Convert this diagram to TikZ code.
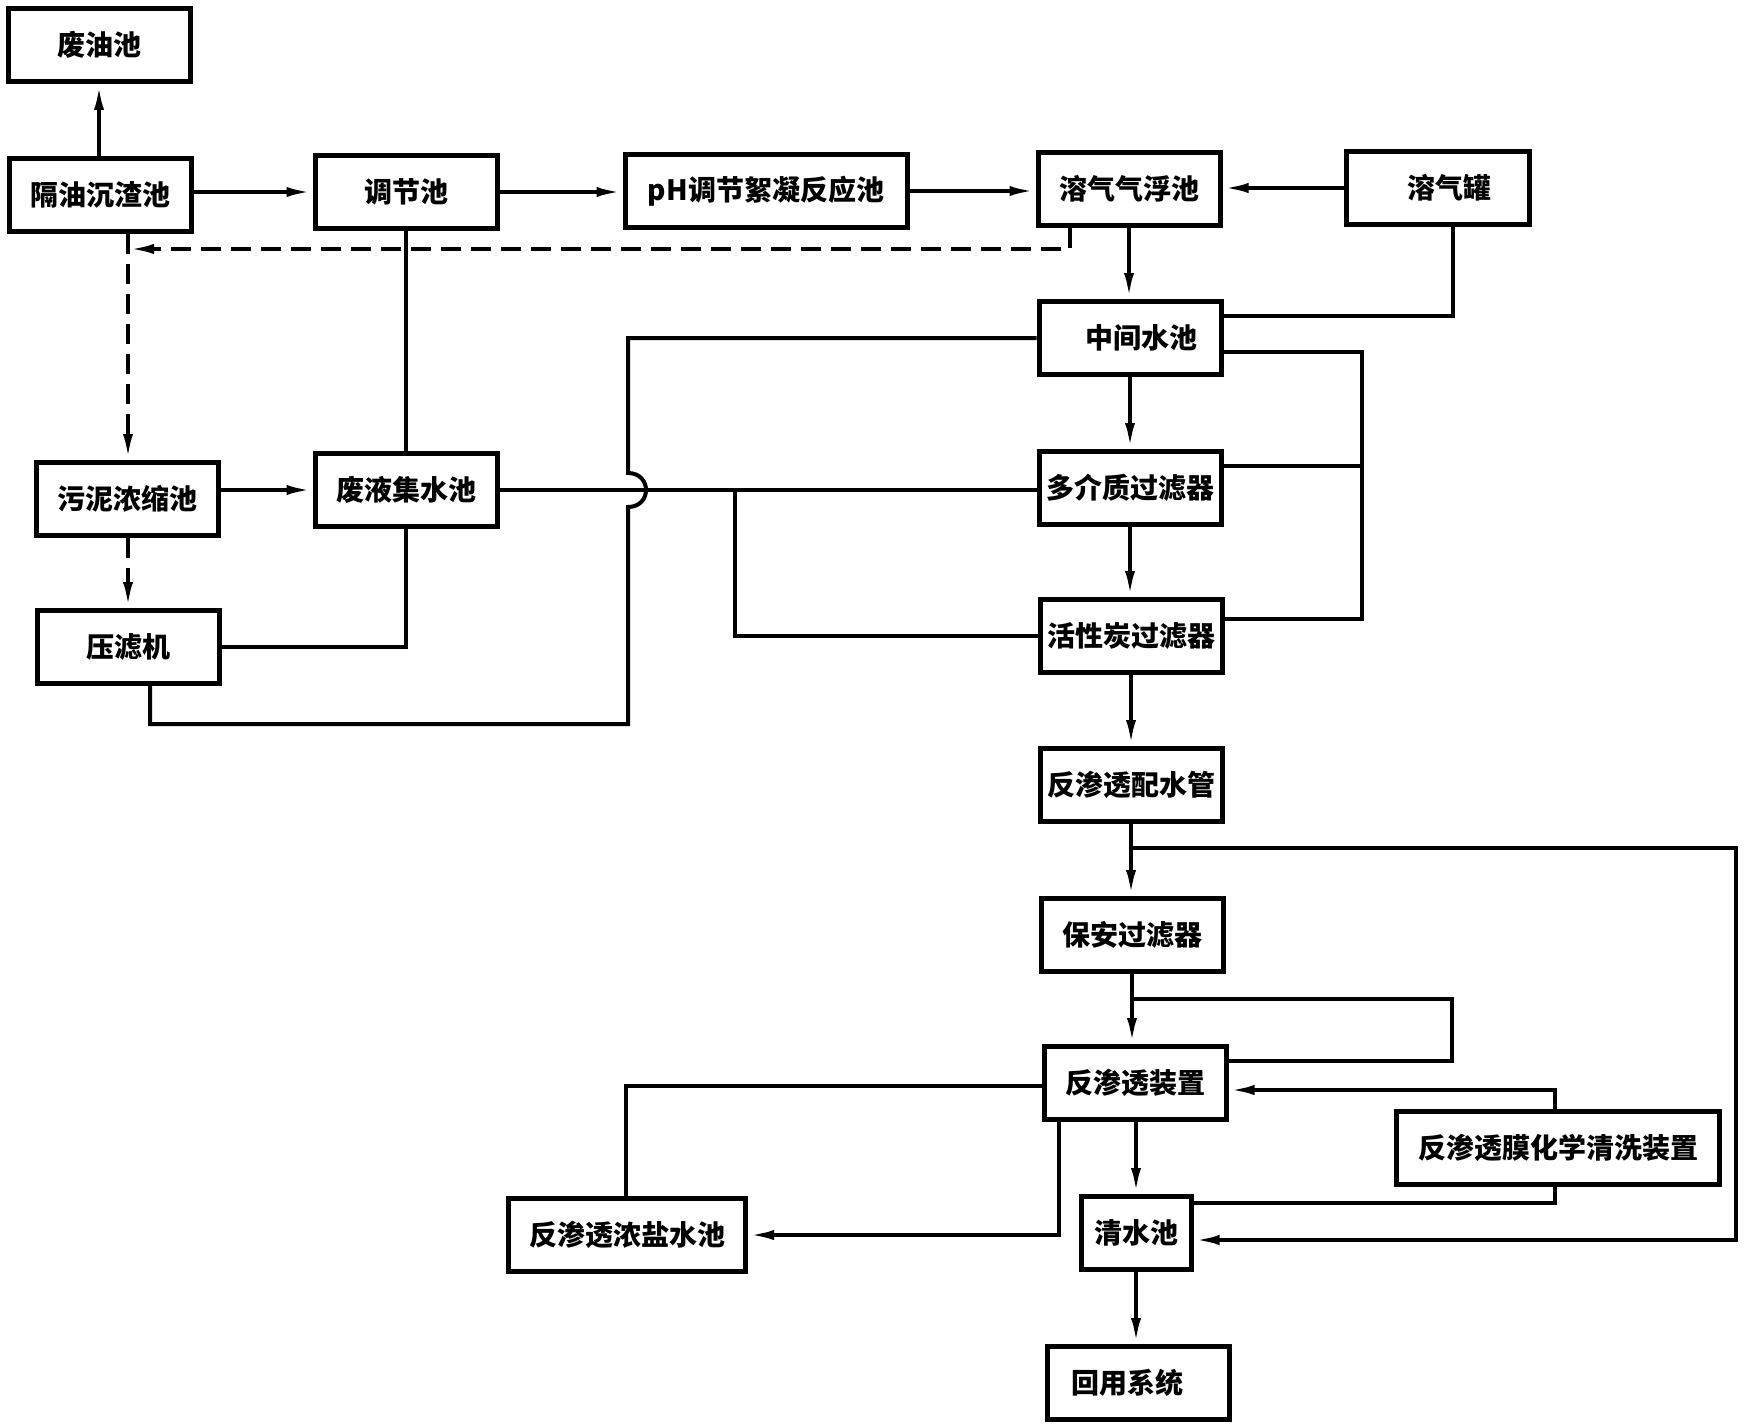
\documentclass[tikz,border=0pt]{standalone}
\usepackage{fontspec}
\setmainfont{Noto Sans CJK SC}
\usetikzlibrary{arrows.meta}
\begin{document}
\begin{tikzpicture}[x=1pt,y=-1pt,line width=4pt,
  box/.style={draw,line width=5pt,minimum width=182pt,minimum height=73pt,inner sep=0pt,font=\fontsize{28}{30}\selectfont\bfseries},
  arr/.style={-{Latex[length=26pt,width=10pt]}},
  dsh/.style={dash pattern=on 20pt off 10pt}]
\useasboundingbox (0,0) rectangle (1752,1426);
% nodes
\node[box] (fy) at (99,45) {废油池};
\node[box] (gy) at (100,195) {隔油沉渣池};
\node[box] (tj) at (406,192) {调节池};
\node[box,minimum width=282pt] (ph) at (766,191) {pH调节絮凝反应池};
\node[box] (qf) at (1129,189) {溶气气浮池};
\node[box,minimum width=183pt,text width=183pt,align=center] (qg) at (1438,188) {\hspace*{22pt}溶气罐};
\node[box] (zj) at (1130,338) {\hspace*{22pt}中间水池};
\node[box] (wn) at (127,499) {污泥浓缩池};
\node[box] (fj) at (406,490) {废液集水池};
\node[box] (yl) at (128,647) {压滤机};
\node[box] (dj) at (1130,488) {多介质过滤器};
\node[box] (hx) at (1131,636) {活性炭过滤器};
\node[box] (ps) at (1131,785) {反渗透配水管};
\node[box] (ba) at (1132,935) {保安过滤器};
\node[box] (zz) at (1135,1083) {反渗透装置};
\node[box,minimum width=323pt] (qx) at (1558,1148) {反渗透膜化学清洗装置};
\node[box,minimum width=237pt] (ny) at (627,1235) {反渗透浓盐水池};
\node[box,minimum width=110pt] (qs) at (1136,1233) {清水池};
\node[box] (hy) at (1138,1383) {回用系统\hspace*{22pt}};
% helper coordinates
\coordinate (dv) at (128,249);
\coordinate (dq) at (1070,249);
\coordinate (yb) at (150,724);
\coordinate (j1) at (628,724);
\coordinate (ja) at (628,507);
\coordinate (jb) at (628,473);
\coordinate (j2) at (628,338);
\coordinate (b1) at (735,490);
\coordinate (q1) at (1453,316);
\coordinate (r1) at (1362,352);
\coordinate (r2) at (1362,466);
\coordinate (r3) at (1362,619);
\coordinate (l1) at (1133,848);
\coordinate (l2) at (1736,1240);
\coordinate (s1) at (1452,999);
\coordinate (s2) at (1452,1061);
\coordinate (c1) at (1555,1090);
\coordinate (c2) at (1555,1203);
\coordinate (k1) at (626,1086);
\coordinate (k2) at (1059,1235);
% top row
\draw[arr] (gy.north -| fy) -- (fy.south);
\draw[arr] (gy.east |- tj) -- (tj.west);
\draw[arr] (tj.east) -- (tj.east -| ph.west);
\draw[arr] (ph.east) -- (ph.east -| qf.west);
\draw[arr] (qg.west) -- (qg.west -| qf.east);
% dashed sludge lines
\draw[dsh,arr] (gy.south -| dv) -- (wn.north -| dv);
\draw[dsh,arr] (qf.south -| dq) -- (dq) -- (dv);
\draw[dsh,arr] (wn.south -| dv) -- (yl.north -| dv);
% left block
\draw[arr] (wn.east |- fj) -- (fj.west);
\draw (tj.south) -- (tj.south |- fj.north);
\draw (yl.east) -| (fj.south);
\draw (yl.south -| yb) -- (yb) -- (j1) -- (ja)
  .. controls (652,507) and (652,473) .. (jb) -- (j2) -- (j2 -| zj.west);
\draw (fj.east) -- (fj.east -| dj.west);
\draw (fj.east -| b1) |- (hx.west);
% right block
\draw (qg.south -| q1) -- (q1) -- (q1 -| zj.east);
\draw (r1 -| zj.east) -- (r1) -- (r3) -- (r3 -| hx.east);
\draw (r2) -- (r2 -| dj.east);
% main column
\draw[arr] (qf.south) -- (qf.south |- zj.north);
\draw[arr] (zj.south) -- (zj.south |- dj.north);
\draw[arr] (dj.south) -- (dj.south |- hx.north);
\draw[arr] (hx.south) -- (hx.south |- ps.north);
\draw[arr] (ps.south) -- (ps.south |- ba.north);
\draw[arr] (ba.south) -- (ba.south |- zz.north);
\draw[arr] (zz.south -| qs) -- (qs.north);
\draw[arr] (qs.south) -- (qs.south |- hy.north);
% bottom loops
\draw[arr] (l1 -| ps.south) -- (l1 -| l2) -- (l2) -- (l2 -| qs.east);
\draw (s1 -| ba.south) -- (s1) -- (s2) -- (s2 -| zz.east);
\draw[arr] (qx.north -| c1) -- (c1) -- (c1 -| zz.east);
\draw (qx.south -| c2) -- (c2) -- (c2 -| qs.east);
\draw (k1 -| zz.west) -- (k1) -- (k1 |- ny.north);
\draw[arr] (zz.south -| k2) -- (k2) -- (k2 -| ny.east);
\end{tikzpicture}
\end{document}
